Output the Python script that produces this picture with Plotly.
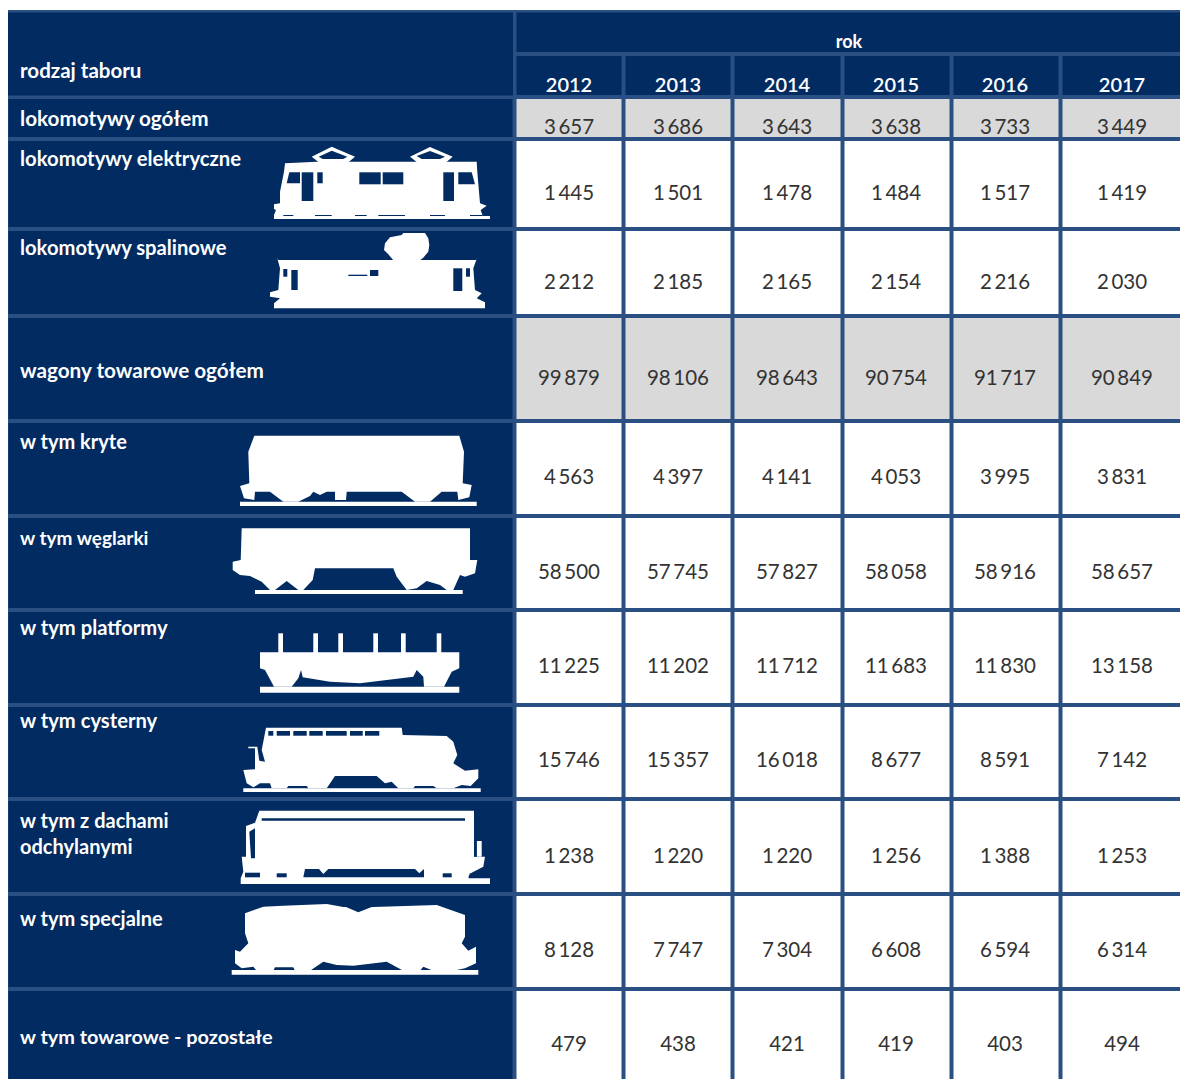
import plotly.graph_objects as go

# ---------- data ----------
years = [2012, 2013, 2014, 2015, 2016, 2017]
header_top = "rok"
header_left = "rodzaj taboru"
row_labels = [
    "lokomotywy ogółem", "lokomotywy elektryczne", "lokomotywy spalinowe",
    "wagony towarowe ogółem", "w tym kryte", "w tym węglarki", "w tym platformy",
    "w tym cysterny", "w tym z dachami<br>odchylanymi", "w tym specjalne",
    "w tym towarowe - pozostałe",
]
lokomotywy_ogolem = [3657, 3686, 3643, 3638, 3733, 3449]
lokomotywy_elektryczne = [1445, 1501, 1478, 1484, 1517, 1419]
lokomotywy_spalinowe = [2212, 2185, 2165, 2154, 2216, 2030]
wagony_ogolem = [99879, 98106, 98643, 90754, 91717, 90849]
kryte = [4563, 4397, 4141, 4053, 3995, 3831]
weglarki = [58500, 57745, 57827, 58058, 58916, 58657]
platformy = [11225, 11202, 11712, 11683, 11830, 13158]
cysterny = [15746, 15357, 16018, 8677, 8591, 7142]
z_dachami = [1238, 1220, 1220, 1256, 1388, 1253]
specjalne = [8128, 7747, 7304, 6608, 6594, 6314]
pozostale = [479, 438, 421, 419, 403, 494]
series = [lokomotywy_ogolem, lokomotywy_elektryczne, lokomotywy_spalinowe, wagony_ogolem,
          kryte, weglarki, platformy, cysterny, z_dachami, specjalne, pozostale]
total_rows = [0, 3]

# ---------- layout of the table (pixel scale of the axes) ----------
NAVY, EDGE, GREY, WHITE, INK = "#012b61", "#2a4f82", "#d9d9d9", "#ffffff", "#333333"
FONT = "Lato"
x_edges = [6.5, 514.5, 623.5, 732.5, 842.5, 951.5, 1060.5, 1190]
y_edges = [54, 97, 138.5, 228.5, 316, 420.5, 515.5, 610, 705, 798.5, 893.5, 988.5, 1090]
col_x = [569, 678, 787, 896, 1005, 1122]
val_y = [129, 195, 284, 380, 479, 574, 668, 762, 858, 952, 1046]
lab_y = [120.5, 160.5, 249.5, 372.5, 443.5, 540.5, 629.5, 722.5, 835.5, 920.5, 1039.5]
lab_size = [20.5, 20.7, 20.3, 20.2, 20.7, 20, 19, 20.2, 20.2, 20, 20, 19.9]

z = [[0] * 7]
for i in range(len(series)):
    z.append([0] + [1 if i in total_rows else 2] * 6)


def fmt(v):
    s = str(v)
    return s if len(s) <= 3 else s[:-3] + "\u2009" + s[-3:]


fig = go.Figure()
fig.add_trace(go.Heatmap(
    x=x_edges, y=y_edges, z=z, zmin=0, zmax=2, xgap=4, ygap=4, showscale=False, hoverinfo="skip",
    colorscale=[[0, NAVY], [0.5, GREY], [1, WHITE]],
))

# values
vx, vy, vt = [], [], []
for r, row in enumerate(series):
    for c, v in enumerate(row):
        vx.append(col_x[c]); vy.append(val_y[r]); vt.append(fmt(v))
fig.add_trace(go.Scatter(x=vx, y=vy, text=vt, mode="text", textposition="middle center",
                         textfont=dict(family=FONT, size=20.5, color=INK), hoverinfo="skip"))
# years
fig.add_trace(go.Scatter(x=col_x, y=[87] * 6, text=[str(y) for y in years], mode="text",
                         textposition="middle center",
                         textfont=dict(family=FONT, size=20, color=WHITE, weight=600), hoverinfo="skip"))
fig.add_trace(go.Scatter(x=[849], y=[43], text=[header_top], mode="text", textposition="middle center",
                         textfont=dict(family=FONT, size=18, color=WHITE, weight=700), hoverinfo="skip"))
# row labels
fig.add_trace(go.Scatter(x=[20] * (len(row_labels) + 1), y=[72.5] + lab_y, text=[header_left] + row_labels,
                         mode="text", textposition="middle right",
                         textfont=dict(family=FONT, size=lab_size, color=WHITE, weight=700), hoverinfo="skip"))

shapes = [
    dict(type="rect", x0=8, x1=1190, y0=10, y1=100, fillcolor=EDGE, line_width=0, layer="below"),
    dict(type="rect", x0=8, x1=513, y0=12.5, y1=95.5, fillcolor=NAVY, line_width=0, layer="below"),
    dict(type="rect", x0=516.5, x1=1190, y0=12.5, y1=52, fillcolor=NAVY, line_width=0, layer="below"),
    dict(type="rect", x0=8, x1=1190, y0=96, y1=1090, fillcolor=EDGE, line_width=0, layer="below"),
]


def poly(points, ox, oy, color):
    d = "M" + "L".join(f"{ox + px / 3:.1f},{oy + py / 3:.1f}" for px, py in points) + "Z"
    shapes.append(dict(type="path", path=d, fillcolor=color, line_width=0, layer="above"))


def rect(x0, y0, x1, y1):
    return [(x0, y0), (x1, y0), (x1, y1), (x0, y1)]


# electric locomotive
O = (260, 135)
poly([(42, 252), (42, 240), (48, 225), (42, 222), (42, 208), (60, 205), (60, 170), (72, 110), (75, 85),
      (170, 80), (650, 80), (652, 110), (660, 205), (680, 212), (662, 225), (668, 243), (690, 243), (690, 252)], *O, WHITE)
poly([(155, 65), (215, 35), (285, 65), (262, 85), (180, 85)], *O, WHITE)
poly([(450, 65), (510, 36), (578, 65), (555, 85), (475, 85)], *O, WHITE)
poly([(176, 65), (215, 47), (262, 65), (250, 72), (188, 72)], *O, NAVY)
poly([(470, 63), (510, 48), (555, 65), (540, 72), (485, 72)], *O, NAVY)
for h in [[(80, 145), (88, 112), (120, 112), (120, 145)], rect(125, 112, 160, 198), rect(172, 112, 188, 145),
          rect(298, 112, 362, 148), rect(368, 112, 430, 148), rect(550, 112, 582, 198),
          [(595, 112), (635, 112), (645, 148), (595, 148)],
          rect(70, 240, 100, 243), rect(165, 240, 215, 243), rect(285, 240, 320, 243),
          rect(355, 240, 435, 243), rect(510, 240, 555, 243), rect(630, 240, 668, 243)]:
    poly(h, *O, NAVY)

# diesel locomotive
poly([(52, 370), (55, 375), (650, 375), (650, 372), (640, 400), (645, 465), (665, 475), (650, 490), (675, 502),
      (675, 520), (42, 520), (42, 505), (60, 490), (30, 485), (30, 472), (55, 465), (60, 400)], *O, WHITE)
poly([(372, 345), (375, 325), (390, 307), (425, 300), (430, 294), (495, 294), (505, 310), (508, 330), (505, 350),
      (490, 368), (480, 376), (400, 376), (385, 358)], *O, WHITE)
for h in [rect(70, 402, 82, 425), rect(94, 405, 113, 465), rect(265, 419, 322, 423), rect(330, 405, 355, 423),
          rect(580, 400, 607, 468), rect(618, 400, 630, 425)]:
    poly(h, *O, NAVY)

# covered wagon, coal wagon, flat wagon
O = (220, 420)
poly([(103, 47), (718, 47), (732, 95), (728, 190), (755, 195), (748, 232), (715, 240), (712, 215), (665, 215),
      (630, 245), (585, 245), (545, 215), (380, 215), (378, 240), (345, 240), (345, 215), (320, 215), (300, 225),
      (280, 215), (270, 228), (235, 245), (190, 245), (150, 215), (105, 215), (103, 240), (72, 235), (60, 198),
      (88, 190), (85, 95)], *O, WHITE)
poly(rect(60, 245, 770, 258), *O, WHITE)
poly([(65, 325), (750, 325), (750, 420), (772, 420), (765, 460), (735, 470), (720, 465), (700, 510), (680, 510),
      (660, 495), (620, 483), (590, 505), (560, 510), (530, 470), (520, 445), (285, 445), (278, 480), (250, 510),
      (235, 510), (200, 483), (165, 510), (150, 510), (125, 485), (90, 468), (60, 465), (38, 450), (38, 425), (62, 420)], *O, WHITE)
poly(rect(105, 510, 728, 522), *O, WHITE)
for sx in [175, 280, 355, 460, 543, 650]:
    poly(rect(sx, 640, sx + 14, 700), *O, WHITE)
poly([(120, 697), (718, 697), (718, 745), (695, 755), (672, 800), (612, 800), (610, 770), (590, 750), (580, 770),
      (500, 780), (420, 790), (330, 785), (248, 772), (243, 750), (235, 775), (215, 800), (162, 800), (135, 750), (120, 745)], *O, WHITE)
poly(rect(120, 800, 718, 818), *O, WHITE)

# tank wagon, tilting roof wagon, special wagon
O = (220, 700)
poly([(138, 83), (545, 83), (548, 105), (680, 108), (700, 125), (712, 165), (700, 190), (735, 212), (775, 208),
      (775, 235), (752, 258), (725, 255), (700, 265), (650, 265), (640, 258), (585, 258), (580, 265), (535, 265),
      (515, 245), (495, 250), (470, 228), (345, 228), (320, 265), (265, 265), (260, 258), (205, 258), (200, 265),
      (155, 265), (150, 250), (120, 250), (100, 262), (80, 250), (70, 210), (105, 208), (105, 145), (85, 145),
      (85, 140), (112, 140), (118, 182), (135, 185), (125, 150)], *O, WHITE)
poly(rect(70, 265, 782, 276), *O, WHITE)
for a, b in [(145, 160), (170, 210), (220, 260), (268, 308), (318, 380), (390, 428), (435, 478)]:
    poly(rect(a, 93, b, 107), *O, NAVY)

poly([(118, 332), (762, 332), (762, 470), (795, 470), (790, 500), (755, 518), (745, 535), (810, 535), (810, 552),
      (62, 552), (62, 535), (70, 515), (65, 470), (78, 470), (78, 378), (105, 368)], *O, WHITE)
poly(rect(770, 423, 785, 470), *O, WHITE)
for h in [rect(125, 355, 735, 362), [(88, 395), (105, 385), (105, 475), (93, 475)],
          rect(763, 420, 770, 470), rect(75, 518, 120, 532), rect(170, 520, 200, 532),
          [(255, 507), (297, 507), (310, 522), (325, 507), (585, 507), (598, 520), (612, 507), (612, 532), (250, 532)],
          rect(668, 520, 695, 532), [(750, 520), (790, 518), (780, 532), (745, 532)]]:
    poly(h, *O, NAVY)

poly([(75, 640), (130, 620), (190, 617), (320, 612), (370, 621), (460, 621), (650, 615), (735, 645), (735, 710),
      (725, 730), (745, 752), (768, 740), (768, 790), (735, 805), (700, 812), (640, 812), (610, 800), (600, 812),
      (550, 812), (500, 785), (400, 797), (350, 795), (310, 785), (270, 812), (225, 812), (220, 802), (165, 802),
      (160, 812), (110, 812), (100, 800), (65, 805), (45, 790), (45, 750), (60, 755), (85, 730), (75, 700)], *O, WHITE)
poly(rect(35, 810, 775, 824), *O, WHITE)
poly([(378, 621), (455, 621), (415, 637)], *O, NAVY)

fig.update_layout(
    width=1180, height=1079, margin=dict(l=0, r=0, t=0, b=0), autosize=False,
    paper_bgcolor=WHITE, plot_bgcolor=WHITE, showlegend=False, shapes=shapes,
    xaxis=dict(range=[0, 1180], visible=False, fixedrange=True),
    yaxis=dict(range=[1079, 0], visible=False, fixedrange=True),
)
fig.write_html("out.html", config=dict(displayModeBar=False),
               post_script="document.body.style.margin='0';document.documentElement.style.overflow='hidden';")
